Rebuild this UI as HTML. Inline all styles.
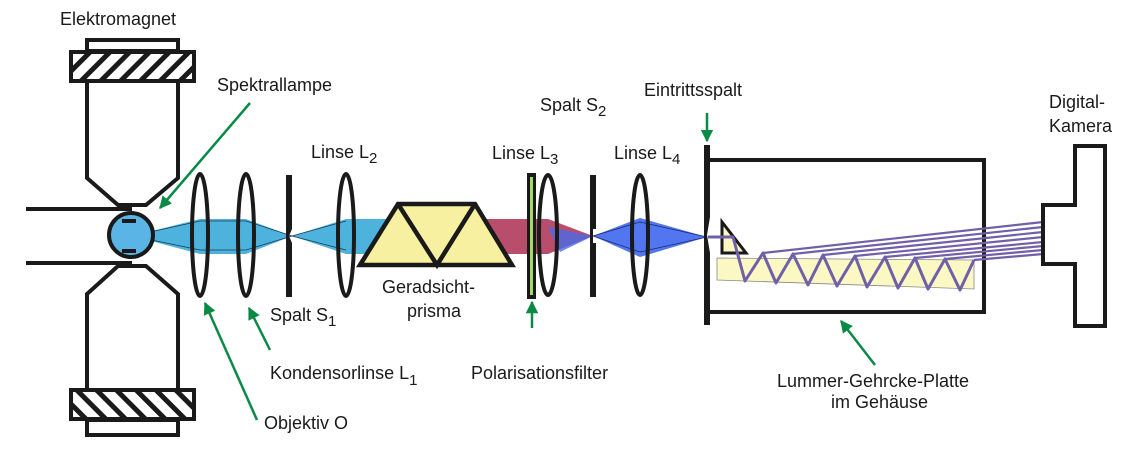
<!DOCTYPE html>
<html><head><meta charset="utf-8"><style>
html,body{margin:0;padding:0;background:#fff;}
svg{display:block;}
text{font-family:"Liberation Sans",sans-serif;font-size:18px;fill:#1a1a1a;}
</style></head><body>
<svg width="1147" height="462" viewBox="0 0 1147 462">
<defs>
<pattern id="hatchA" width="14" height="14" patternUnits="userSpaceOnUse" patternTransform="rotate(45)">
<rect width="14" height="14" fill="#fff"/><rect width="5" height="14" fill="#1a1a1a"/></pattern>
<pattern id="hatchB" width="14" height="14" patternUnits="userSpaceOnUse" patternTransform="rotate(-45)">
<rect width="14" height="14" fill="#fff"/><rect width="5" height="14" fill="#1a1a1a"/></pattern>
<marker id="ah" viewBox="0 0 10 10" refX="9" refY="5" markerWidth="5" markerHeight="5" orient="auto"><path d="M0,0 L10,5 L0,10 z" fill="#0b8a45"/></marker>
</defs>

<g stroke="#1a1a1a" stroke-width="4" fill="none">
<rect x="87" y="40" width="91" height="11"/>
<rect x="71" y="52" width="123" height="29" fill="url(#hatchA)"/>
<path d="M87,82 V178 L118,205 H146 L178,178 V82"/>
<line x1="26" y1="209" x2="132" y2="209"/>
<line x1="26" y1="263" x2="132" y2="263"/>
<path d="M87,390 V294 L118,266 H146 L178,294 V390"/>
<rect x="71" y="390" width="123" height="29" fill="url(#hatchB)"/>
<rect x="87" y="420" width="91" height="15"/>
</g>

<g>
<path d="M132,236 L200,219 L246,219 L292,236 L346,219 L395,219 L395,254 L346,254 L292,236 L246,254 L200,254 Z" fill="#3aabd9" opacity="0.9"/>
<path d="M132,236 L200,221 M132,236 L200,250 M200,221 L246,221 L292,236 L346,221 M200,250 L246,250 L292,236 L346,250" stroke="#1a3a5a" stroke-width="0.8" fill="none"/>
<path d="M475,219 L548,219 L593,236 L548,254 L475,254 Z" fill="#b03a5c" opacity="0.9"/>
<path d="M548,227 L593,236 L560,252 Z" fill="#4a6ae8" opacity="0.8"/>
<path d="M593,236 L640,218 L707,237 L640,257 Z" fill="#3f66ee" opacity="0.9"/>
<path d="M593,236 L640,222 L707,237 L640,252 Z" stroke="#1a2a6a" stroke-width="0.8" fill="none"/>
</g>

<g>
<circle cx="131" cy="235" r="22" fill="#5ab4e6" stroke="#1a1a1a" stroke-width="4"/>
<rect x="122" y="219" width="14" height="4" fill="#1a1a1a"/>
<rect x="122" y="249" width="14" height="4" fill="#1a1a1a"/>
</g>

<g stroke="#1a1a1a" stroke-width="4" fill="none">
<ellipse cx="200" cy="235" rx="8" ry="61"/>
<ellipse cx="246" cy="235" rx="8" ry="61"/>
<ellipse cx="346" cy="235" rx="8" ry="61"/>
<ellipse cx="548" cy="235" rx="9" ry="60"/>
<ellipse cx="640" cy="235" rx="8" ry="60"/>
</g>

<g fill="#1a1a1a">
<path d="M286,175 h6 v54 l-3,7 l3,7 v54 h-6 z"/>
<path d="M590,175 h6 v54 h-3 v14 h3 v54 h-6 z"/>
<path d="M704,145 h6 v72 l-3,18 l3,18 v72 h-6 z"/>
</g>

<g stroke="#1a1a1a" stroke-width="4.5" stroke-linejoin="miter">
<path d="M360,265 L398,204 L475,204 L512,265 Z" fill="#f7f0a0"/>
<path d="M398,204 L437,265 L475,204" fill="none"/>
</g>

<g>
<rect x="527" y="173" width="9" height="126" fill="#1a1a1a"/>
<rect x="530" y="177" width="3" height="118" fill="#a8d868"/>
</g>

<g stroke="#1a1a1a" stroke-width="4" fill="none">
<path d="M710,160 H984 V312 H710"/>
</g>
<polygon points="717,258 974,260 974,289 717,280" fill="#fbf8c4" stroke="#888" stroke-width="0.8"/>
<path d="M722,222 V253 H746 Z" fill="#fbf8c4" stroke="#1a1a1a" stroke-width="3"/>

<g stroke="#7060a8" stroke-width="3" fill="none" stroke-linejoin="round">
<polyline points="708,237 733,237 745,281 763,253 776,283 793,254 808,285 823,255 837,286 855,256 867,287 885,257 898,288 915,258 928,289 945,259 960,290 974,260"/>
</g>
<g stroke="#7060a8" stroke-width="2.2" fill="none">
<line x1="763" y1="253" x2="1043" y2="222"/>
<line x1="793" y1="254" x2="1043" y2="227"/>
<line x1="823" y1="255" x2="1043" y2="232"/>
<line x1="855" y1="256" x2="1043" y2="237"/>
<line x1="885" y1="257" x2="1043" y2="242"/>
<line x1="915" y1="258" x2="1043" y2="246"/>
<line x1="945" y1="259" x2="1043" y2="250"/>
<line x1="974" y1="260" x2="1043" y2="254"/>
</g>

<path d="M1043,205 H1075 V146 H1105 V326 H1075 V264 H1043 Z" fill="#fff" stroke="#1a1a1a" stroke-width="4"/>

<g stroke="#0b8a45" stroke-width="2.5" marker-end="url(#ah)">
<line x1="250" y1="103" x2="160" y2="208"/>
<line x1="257" y1="420" x2="205" y2="303"/>
<line x1="270" y1="350" x2="249" y2="308"/>
<line x1="532" y1="328" x2="532" y2="302"/>
<line x1="707" y1="113" x2="707" y2="141"/>
<line x1="875" y1="365" x2="841" y2="321"/>
</g>

<text x="60" y="25">Elektromagnet</text>
<text x="217" y="91">Spektrallampe</text>
<text x="311" y="158">Linse L<tspan dy="5" font-size="15">2</tspan></text>
<text x="540" y="111">Spalt S<tspan dy="5" font-size="15">2</tspan></text>
<text x="644" y="96">Eintrittsspalt</text>
<text x="1049" y="108">Digital-</text>
<text x="1049" y="132">Kamera</text>
<text x="492" y="159">Linse L<tspan dy="5" font-size="15">3</tspan></text>
<text x="614" y="159">Linse L<tspan dy="5" font-size="15">4</tspan></text>
<text x="382" y="293">Geradsicht-</text>
<text x="407" y="317">prisma</text>
<text x="270" y="321">Spalt S<tspan dy="5" font-size="15">1</tspan></text>
<text x="270" y="379">Kondensorlinse L<tspan dy="6" font-size="15">1</tspan></text>
<text x="471" y="379">Polarisationsfilter</text>
<text x="777" y="387">Lummer-Gehrcke-Platte</text>
<text x="831" y="408">im Gehäuse</text>
<text x="264" y="429">Objektiv O</text>
</svg>
</body></html>
